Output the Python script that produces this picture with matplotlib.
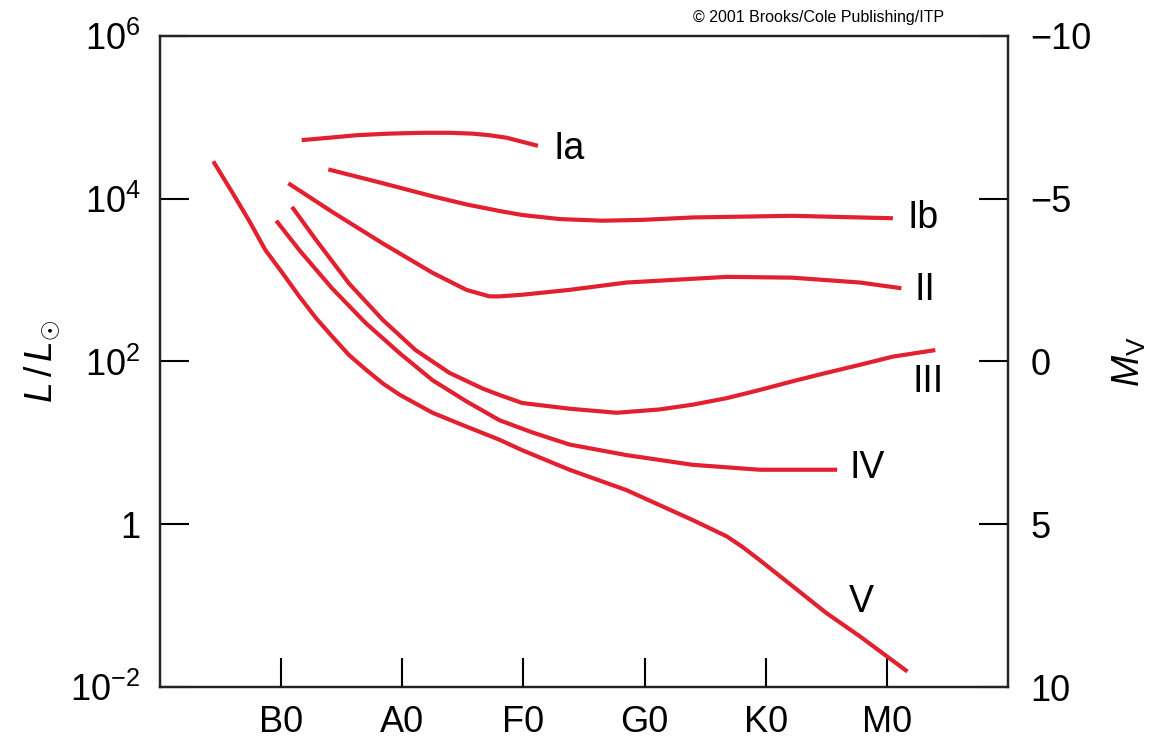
import numpy as np
from matplotlib import pyplot as plt

plt.rcParams["font.family"] = ["Liberation Sans", "DejaVu Sans"]
plt.rcParams["mathtext.fontset"] = "custom"
plt.rcParams["mathtext.rm"] = "Liberation Sans"
plt.rcParams["mathtext.it"] = "Liberation Sans:italic"
plt.rcParams["mathtext.sf"] = "Liberation Sans"

# spectral class positions (B0=0 ... M0=5)
spec_labels = ["B0", "A0", "F0", "G0", "K0", "M0"]
spec_ticks = [0, 1, 2, 3, 4, 5]

# luminosity classes: x = spectral position, y = log10(L/Lsun)
ia_x = [0.17, 0.40, 0.62, 0.89, 1.17, 1.39, 1.58, 1.72, 1.86, 1.99, 2.12]
ia_y = [4.72, 4.75, 4.78, 4.80, 4.81, 4.81, 4.80, 4.78, 4.75, 4.70, 4.65]

ib_x = [0.39, 0.84, 1.25, 1.53, 1.80, 1.99, 2.30, 2.65, 2.98, 3.40, 4.22, 5.05]
ib_y = [4.36, 4.19, 4.03, 3.93, 3.85, 3.80, 3.75, 3.73, 3.74, 3.77, 3.79, 3.76]

ii_x = [0.06, 0.42, 0.84, 1.25, 1.53, 1.72, 1.80, 1.99, 2.38, 2.85, 3.68, 4.22, 4.78, 5.12]
ii_y = [4.19, 3.84, 3.45, 3.09, 2.88, 2.80, 2.80, 2.82, 2.88, 2.97, 3.04, 3.03, 2.97, 2.90]

iii_x = [0.09, 0.29, 0.56, 0.84, 1.11, 1.39, 1.66, 1.80, 1.99, 2.38, 2.77, 3.12, 3.40,
         3.68, 3.95, 4.23, 4.50, 4.78, 5.05, 5.40]
iii_y = [3.90, 3.49, 2.96, 2.51, 2.14, 1.86, 1.67, 1.59, 1.49, 1.42, 1.37, 1.41, 1.47,
         1.55, 1.65, 1.76, 1.86, 1.96, 2.06, 2.14]

iv_x = [-0.04, 0.15, 0.42, 0.70, 0.98, 1.25, 1.53, 1.80, 2.07, 2.38, 2.85, 3.40, 3.95, 4.59]
iv_y = [3.73, 3.37, 2.90, 2.47, 2.10, 1.77, 1.51, 1.28, 1.13, 0.98, 0.85, 0.73, 0.67, 0.67]

v_x = [-0.56, -0.40, -0.26, -0.13, 0.01, 0.15, 0.29, 0.42, 0.56, 0.70, 0.84, 0.98,
       1.25, 1.53, 1.80, 1.99, 2.38, 2.85, 3.40, 3.68, 3.81, 3.95, 4.23, 4.50, 4.78, 5.17]
v_y = [4.46, 4.07, 3.72, 3.37, 3.09, 2.80, 2.53, 2.31, 2.08, 1.90, 1.73, 1.59,
       1.37, 1.20, 1.04, 0.91, 0.67, 0.42, 0.05, -0.15, -0.28, -0.44, -0.77, -1.09,
       -1.38, -1.81]

curves = [
    ("Ia", ia_x, ia_y, (2.38, 4.61)),
    ("Ib", ib_x, ib_y, (5.30, 3.76)),
    ("II", ii_x, ii_y, (5.31, 2.88)),
    ("III", iii_x, iii_y, (5.34, 1.75)),
    ("IV", iv_x, iv_y, (4.84, 0.69)),
    ("V", v_x, v_y, (4.79, -0.95)),
]

red = "#e3202f"

fig = plt.figure(figsize=(11.59, 7.40), dpi=100)
ax = fig.add_axes([0.138, 0.0716, 0.7317, 0.8798])

for name, xs, ys, (lx, ly) in curves:
    ax.plot(xs, 10 ** np.array(ys), color=red, lw=3, solid_capstyle="butt",
            solid_joinstyle="round")
    ax.text(lx, 10 ** ly, name, fontsize=27, ha="center", va="center")

ax.set_yscale("log")
ax.set_xlim(-1, 6)
ax.set_ylim(1e-2, 1e6)
ax.set_xticks(spec_ticks)
ax.set_xticklabels(spec_labels)
ax.set_yticks([1e-2, 1, 1e2, 1e4, 1e6])
ax.set_yticklabels([r"$10^{-2}$", "1", r"$10^{2}$", r"$10^{4}$", r"$10^{6}$"])
ax.yaxis.set_minor_locator(plt.NullLocator())

ax.tick_params(axis="x", direction="in", length=21, width=1.5, pad=13, labelsize=26)
ax.tick_params(axis="y", direction="in", length=21, width=1.5, pad=14, labelsize=26)
for s in ax.spines.values():
    s.set_linewidth(1.6)
    s.set_color("#222222")

ax.set_ylabel(r"$L\,/\,L_{\odot}$", fontsize=27, labelpad=6)

# absolute magnitude on the right
ax2 = ax.twinx()
ax2.set_ylim(10, -10)
ax2.set_yticks([10, 5, 0, -5, -10])
ax2.set_yticklabels(["10", "5", "0", "\u22125", "\u221210"])
ax2.tick_params(axis="y", direction="in", length=21, width=1.5, pad=16, labelsize=26)
for s in ax2.spines.values():
    s.set_linewidth(1.6)
    s.set_color("#222222")
ax2.set_ylabel(r"$M_\mathrm{V}$", fontsize=27, labelpad=14)

fig.text(0.7066, 0.977, "\u00a9 2001 Brooks/Cole Publishing/ITP", fontsize=11.5,
         ha="center", va="center")

fig.savefig("out.png", dpi=100)
